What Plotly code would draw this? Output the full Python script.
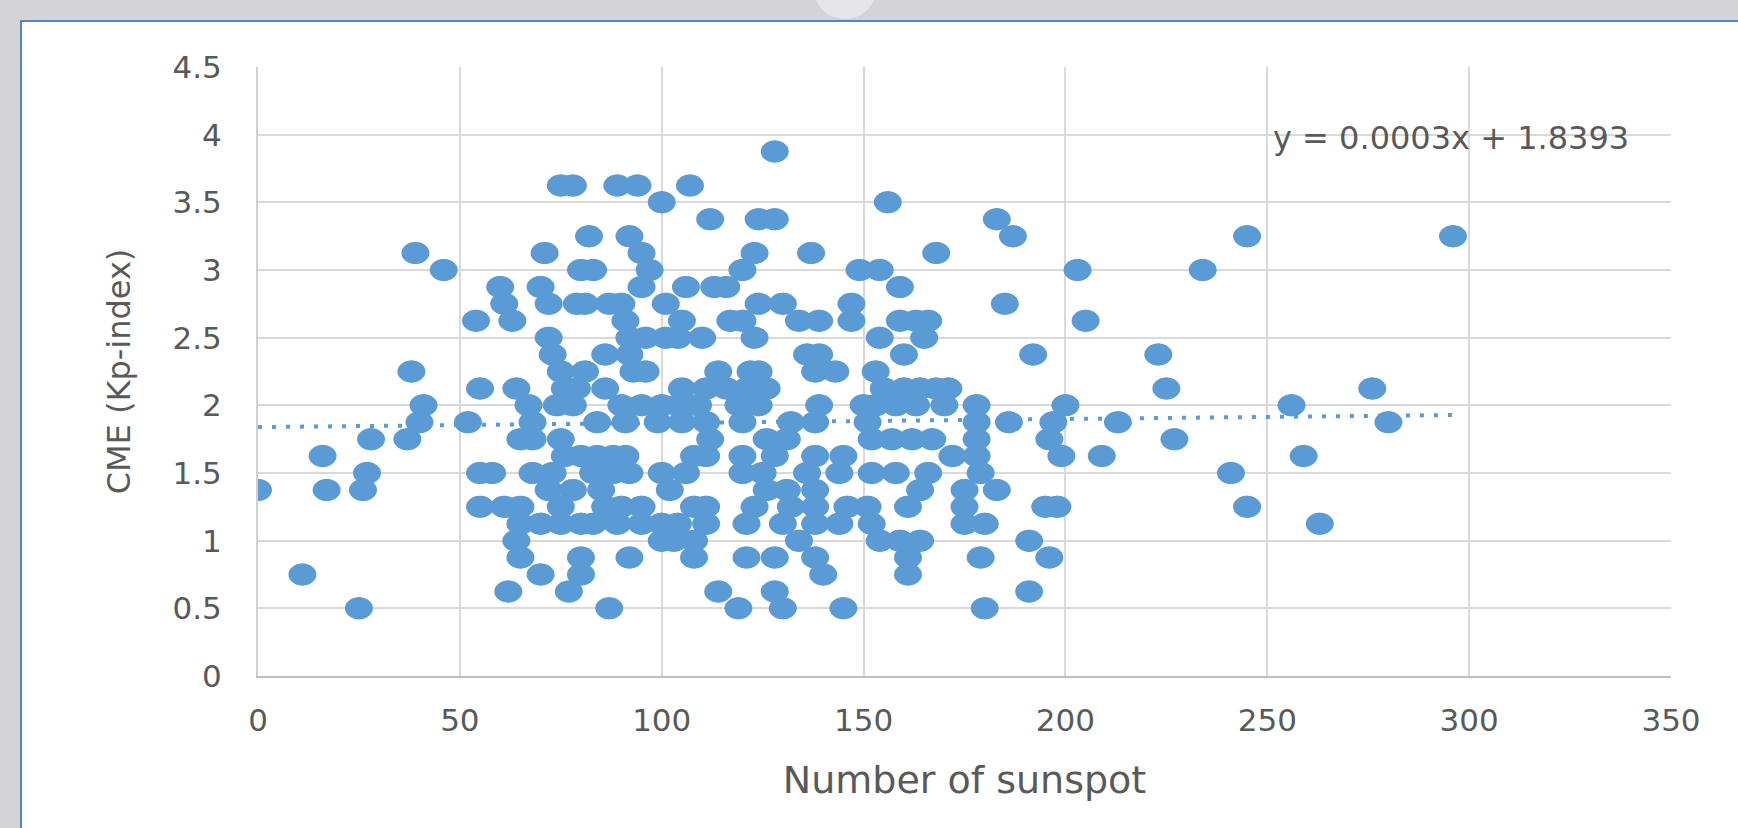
import plotly.graph_objects as go

# ---- data ----
# each line of sunspots pairs with the same line of kp
sunspots = [
    128,
    75, 78, 89, 94, 107,
    100, 156,
    112, 124, 128, 183,
    82, 92, 187, 245, 296,
    39, 71, 95, 123, 137, 168,
    46, 80, 83, 97, 120, 149, 154, 203, 234,
    60, 70, 95, 106, 113, 116, 159,
    61, 72, 79, 81, 87, 90, 101, 124, 130, 147, 185,
    54, 63, 91, 105, 117, 120, 134, 139, 147, 159, 163, 166, 205,
    72, 92, 96, 101, 104, 110, 123, 154, 165,
    73, 86, 92, 136, 139, 160, 192, 223,
    38, 75, 81, 93, 96, 114, 122, 124, 138, 143, 153,
    55, 64, 76, 79, 86, 105, 111, 116, 121, 126, 155, 160, 164, 168, 171, 225, 276,
    41, 67, 74, 78, 90, 95, 100, 104, 109, 119, 124, 139, 150, 153, 158, 163, 170, 178, 200, 256,
    40, 52, 68, 84, 91, 99, 105, 111, 120, 132, 138, 151, 178, 186, 197, 213, 280,
    28, 37, 65, 68, 75, 112, 126, 131, 152, 157, 162, 167, 178, 196, 227,
    16, 76, 80, 84, 88, 91, 108, 111, 120, 128, 138, 145, 172, 178, 199, 209, 259,
    27, 55, 58, 68, 73, 83, 88, 92, 100, 106, 120, 125, 136, 144, 152, 158, 166, 179, 241,
    0, 17, 26, 72, 78, 85, 102, 126, 131, 138, 164, 175, 183,
    55, 61, 65, 75, 86, 90, 95, 108, 111, 123, 132, 138, 146, 151, 161, 175, 195, 198, 245,
    65, 70, 75, 80, 83, 89, 95, 100, 104, 111, 121, 130, 138, 144, 152, 175, 180, 263,
    64, 100, 103, 108, 134, 154, 159, 164, 191,
    65, 80, 92, 108, 121, 128, 138, 161, 179, 196,
    11, 70, 80, 140, 161,
    62, 77, 114, 128, 191,
    25, 87, 119, 130, 145, 180,
]
kp = [
    3.875,
    3.625, 3.625, 3.625, 3.625, 3.625,
    3.5, 3.5,
    3.375, 3.375, 3.375, 3.375,
    3.25, 3.25, 3.25, 3.25, 3.25,
    3.125, 3.125, 3.125, 3.125, 3.125, 3.125,
    3.0, 3.0, 3.0, 3.0, 3.0, 3.0, 3.0, 3.0, 3.0,
    2.875, 2.875, 2.875, 2.875, 2.875, 2.875, 2.875,
    2.75, 2.75, 2.75, 2.75, 2.75, 2.75, 2.75, 2.75, 2.75, 2.75, 2.75,
    2.625, 2.625, 2.625, 2.625, 2.625, 2.625, 2.625, 2.625, 2.625, 2.625, 2.625, 2.625, 2.625,
    2.5, 2.5, 2.5, 2.5, 2.5, 2.5, 2.5, 2.5, 2.5,
    2.375, 2.375, 2.375, 2.375, 2.375, 2.375, 2.375, 2.375,
    2.25, 2.25, 2.25, 2.25, 2.25, 2.25, 2.25, 2.25, 2.25, 2.25, 2.25,
    2.125, 2.125, 2.125, 2.125, 2.125, 2.125, 2.125, 2.125, 2.125, 2.125, 2.125, 2.125, 2.125, 2.125, 2.125, 2.125, 2.125,
    2.0, 2.0, 2.0, 2.0, 2.0, 2.0, 2.0, 2.0, 2.0, 2.0, 2.0, 2.0, 2.0, 2.0, 2.0, 2.0, 2.0, 2.0, 2.0, 2.0,
    1.875, 1.875, 1.875, 1.875, 1.875, 1.875, 1.875, 1.875, 1.875, 1.875, 1.875, 1.875, 1.875, 1.875, 1.875, 1.875, 1.875,
    1.75, 1.75, 1.75, 1.75, 1.75, 1.75, 1.75, 1.75, 1.75, 1.75, 1.75, 1.75, 1.75, 1.75, 1.75,
    1.625, 1.625, 1.625, 1.625, 1.625, 1.625, 1.625, 1.625, 1.625, 1.625, 1.625, 1.625, 1.625, 1.625, 1.625, 1.625, 1.625,
    1.5, 1.5, 1.5, 1.5, 1.5, 1.5, 1.5, 1.5, 1.5, 1.5, 1.5, 1.5, 1.5, 1.5, 1.5, 1.5, 1.5, 1.5, 1.5,
    1.375, 1.375, 1.375, 1.375, 1.375, 1.375, 1.375, 1.375, 1.375, 1.375, 1.375, 1.375, 1.375,
    1.25, 1.25, 1.25, 1.25, 1.25, 1.25, 1.25, 1.25, 1.25, 1.25, 1.25, 1.25, 1.25, 1.25, 1.25, 1.25, 1.25, 1.25, 1.25,
    1.125, 1.125, 1.125, 1.125, 1.125, 1.125, 1.125, 1.125, 1.125, 1.125, 1.125, 1.125, 1.125, 1.125, 1.125, 1.125, 1.125, 1.125,
    1.0, 1.0, 1.0, 1.0, 1.0, 1.0, 1.0, 1.0, 1.0,
    0.875, 0.875, 0.875, 0.875, 0.875, 0.875, 0.875, 0.875, 0.875, 0.875,
    0.75, 0.75, 0.75, 0.75, 0.75,
    0.625, 0.625, 0.625, 0.625, 0.625,
    0.5, 0.5, 0.5, 0.5, 0.5, 0.5,
]
assert len(sunspots) == len(kp)

TREND_SLOPE = 0.0003
TREND_INTERCEPT = 1.8393
equation_text = "y = 0.0003x + 1.8393"

x_tick_vals = [0, 50, 100, 150, 200, 250, 300, 350]
y_tick_vals = [0, 0.5, 1, 1.5, 2, 2.5, 3, 3.5, 4, 4.5]
y_tick_text = ["0", "0.5", "1", "1.5", "2", "2.5", "3", "3.5", "4", "4.5"]

x_title = "Number of sunspot"
y_title = "CME (Kp-index)"

# ---- styling ----
BLUE = "#5b9bd5"
GRID = "#d9d9d9"
TEXT = "#595959"
FONT = "DejaVu Sans"
MARK_W, MARK_H = 28, 22   # elliptical marker size in pixels

W, H = 1738, 828
ML, MR, MT, MB = 258, 67, 67, 152
PW, PH = W - ML - MR, H - MT - MB


def px_x(p):
    return (p - ML) / PW


def px_y(p):
    return (H - MB - p) / PH


trend_x = [0, max(sunspots)]
trend_y = [TREND_INTERCEPT + TREND_SLOPE * v for v in trend_x]

fig = go.Figure()
fig.add_trace(go.Scatter(
    x=trend_x, y=trend_y, mode="lines",
    line=dict(color=BLUE, width=4, dash="4px,10px"),
    hoverinfo="skip", showlegend=False,
))
fig.add_trace(go.Scatter(
    x=sunspots, y=kp, mode="markers",
    marker=dict(color=BLUE, size=MARK_H, line=dict(width=0)),
    showlegend=False,
))

fig.add_annotation(
    x=295.5, y=3.975, xref="x", yref="y", text=equation_text, showarrow=False,
    font=dict(family=FONT, size=32, color=TEXT), xanchor="center", yanchor="middle",
)

shapes = [
    # white chart panel with blue border (left/top edges visible)
    dict(type="rect", xref="paper", yref="paper", layer="below",
         x0=px_x(21), x1=px_x(W + 40), y0=px_y(H + 40), y1=px_y(21),
         fillcolor="white", line=dict(color="#4f86c6", width=2)),
    # faint light circle in the grey background at the top
    dict(type="circle", xref="paper", yref="paper", layer="below",
         x0=px_x(813), x1=px_x(877), y0=px_y(19), y1=px_y(-45),
         fillcolor="#e6e6ea", line=dict(width=0)),
]
# elliptical markers anchored at each data point (pixel-sized, like the Excel markers)
for sx, sy in zip(sunspots, kp):
    shapes.append(dict(
        type="circle", xref="x", yref="y", xsizemode="pixel", ysizemode="pixel",
        xanchor=sx, yanchor=sy, x0=-MARK_W / 2, x1=MARK_W / 2,
        y0=-MARK_H / 2, y1=MARK_H / 2, layer="above",
        fillcolor=BLUE, line=dict(width=0),
    ))

fig.update_layout(
    width=W, height=H, autosize=False,
    margin=dict(l=ML, r=MR, t=MT, b=MB, pad=0),
    paper_bgcolor="#d4d4d8", plot_bgcolor="white",
    font=dict(family=FONT, color=TEXT),
    shapes=shapes,
    showlegend=False,
    xaxis=dict(
        range=[0, 350], tickvals=x_tick_vals, showgrid=True, gridcolor=GRID, gridwidth=1.5,
        zeroline=False, showline=True, linecolor="#bfbfbf", linewidth=2, mirror=False,
        ticks="", tickfont=dict(family=FONT, size=31, color=TEXT), ticklabelstandoff=16,
        title=dict(text=x_title, font=dict(family=FONT, size=38, color=TEXT), standoff=29),
        automargin=False, fixedrange=True,
    ),
    yaxis=dict(
        range=[0, 4.5], tickvals=y_tick_vals, ticktext=y_tick_text, showgrid=True,
        gridcolor=GRID, gridwidth=1.5, zeroline=False, showline=True, linecolor="#d0d0d0",
        linewidth=2, ticks="", tickfont=dict(family=FONT, size=31, color=TEXT),
        ticklabelstandoff=28,
        title=dict(text=y_title, font=dict(family=FONT, size=32, color=TEXT), standoff=32),
        automargin=False, fixedrange=True,
    ),
)

fig.write_html("out.html")
